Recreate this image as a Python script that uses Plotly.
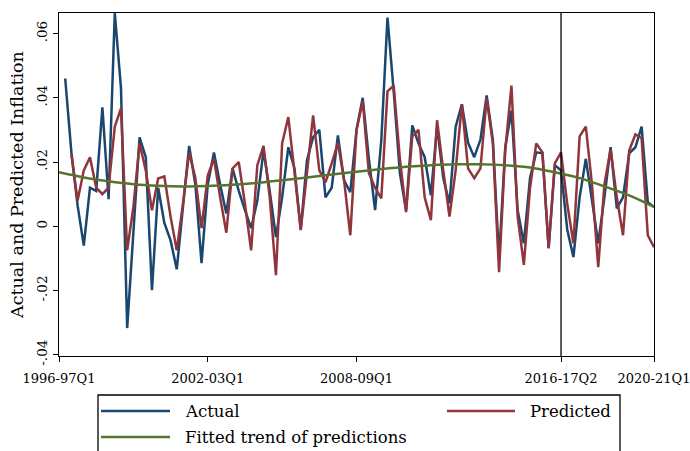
import plotly.graph_objects as go

# ---- data ----
quarters = [f"{y}-{(y + 1) % 100:02d}Q{q}" for y in range(1996, 2021) for q in range(1, 5)][:97]

actual = [None, 0.046, 0.023, 0.0065, -0.006, 0.012, 0.011, 0.037, 0.0084, 0.0664,
          0.043, -0.0317, -0.003, 0.0277, 0.0215, -0.0199, 0.012, 0.001, -0.0044, -0.0134,
          0.006, 0.025, 0.013, -0.0115, 0.013, 0.023, 0.013, 0.004, 0.018, 0.011,
          0.005, -0.0006, 0.008, 0.0236, 0.011, -0.0034, 0.009, 0.0246, 0.018, -0.001,
          0.0205, 0.0277, 0.030, 0.009, 0.012, 0.0283, 0.0143, 0.0106, 0.030, 0.040,
          0.021, 0.005, 0.0267, 0.065, 0.042, 0.0165, 0.005, 0.0314, 0.0258, 0.0215,
          0.0096, 0.031, 0.015, 0.0071, 0.031, 0.038, 0.026, 0.0215, 0.027, 0.0407,
          0.027, -0.010, 0.0246, 0.036, 0.005, -0.0053, 0.015, 0.023, 0.0227, -0.0068,
          0.019, 0.0174, -0.001, -0.0096, 0.009, 0.021, 0.008, -0.0053, 0.009, 0.0246,
          0.0056, 0.009, 0.0227, 0.0246, 0.031, 0.0075, 0.006]

predicted = [None, None, 0.0224, 0.008, 0.0174, 0.0215, 0.012, 0.010, 0.012, 0.031,
             0.0367, -0.0075, 0.006, 0.0258, 0.0174, 0.005, 0.0149, 0.0155, 0.003, -0.0075,
             0.007, 0.023, 0.015, -0.0006, 0.0158, 0.021, 0.009, -0.002, 0.018, 0.020,
             0.007, -0.0075, 0.019, 0.025, 0.009, -0.0152, 0.0258, 0.034, 0.0168, -0.0012,
             0.0165, 0.0345, 0.0174, 0.0137, 0.0196, 0.026, 0.0143, -0.0028, 0.030, 0.039,
             0.0165, 0.012, 0.0087, 0.042, 0.0438, 0.021, 0.0044, 0.028, 0.030, 0.009,
             0.0019, 0.033, 0.0174, 0.003, 0.0174, 0.038, 0.018, 0.015, 0.018, 0.0398,
             0.0258, -0.0143, 0.0236, 0.0438, 0.003, -0.012, 0.012, 0.0258, 0.023, -0.0068,
             0.0196, 0.023, 0.007, -0.0053, 0.028, 0.031, 0.013, -0.0127, 0.013, 0.024,
             0.009, -0.0028, 0.0236, 0.0286, 0.0274, -0.0028, -0.0065]

# fitted trend, read every 4 quarters
trend_quarters = quarters[::4]
trend = [0.0168, 0.0152, 0.0140, 0.0131, 0.0126, 0.0124, 0.0125, 0.0129, 0.0135, 0.0143,
         0.0152, 0.0161, 0.0170, 0.0178, 0.0185, 0.0190, 0.0193, 0.0193, 0.0190, 0.0183,
         0.0168, 0.0150, 0.0124, 0.0096, 0.0060]

xtick_labels = ["1996-97Q1", "2002-03Q1", "2008-09Q1", "2016-17Q2", "2020-21Q1"]
ytick_vals = [-0.04, -0.02, 0, 0.02, 0.04, 0.06]
ytick_text = ["-.04", "-.02", "0", ".02", ".04", ".06"]
break_quarter = "2016-17Q2"

legend_labels = ["Actual", "Predicted", "Fitted trend of predictions"]

NAVY = "#1a476f"
MAROON = "#90353b"
GREEN = "#55752f"
FONT = "DejaVu Serif"

W, H = 690, 451
L, R, T, B = 59, 36, 13, 95
PW, PH = W - L - R, H - T - B


def px(x):
    return (x - L) / PW


def py(y):
    return (H - B - y) / PH


fig = go.Figure()
fig.add_trace(go.Scatter(x=quarters, y=actual, mode="lines", name=legend_labels[0],
                         line=dict(color=NAVY, width=2.5), showlegend=False))
fig.add_trace(go.Scatter(x=quarters, y=predicted, mode="lines", name=legend_labels[1],
                         line=dict(color=MAROON, width=2.5), showlegend=False))
fig.add_trace(go.Scatter(x=trend_quarters, y=trend, mode="lines", name=legend_labels[2],
                         line=dict(color=GREEN, width=2.5, shape="spline"), showlegend=False))

fig.add_shape(type="line", x0=break_quarter, x1=break_quarter, xref="x", yref="paper",
              y0=0, y1=1, line=dict(color="black", width=1.3))

# legend (drawn manually to match the Stata-style box)
fig.add_shape(type="rect", xref="paper", yref="paper", x0=px(98), x1=px(620),
              y0=py(395), y1=py(480), line=dict(color="black", width=1.3),
              fillcolor="white", layer="above")
legend_rows = [(101, 170, 183, 411, NAVY, legend_labels[0]),
               (447, 515, 528, 411, MAROON, legend_labels[1]),
               (101, 170, 183, 437, GREEN, legend_labels[2])]
for x0, x1, xt, yy, col, lab in legend_rows:
    fig.add_shape(type="line", xref="paper", yref="paper", x0=px(x0), x1=px(x1),
                  y0=py(yy), y1=py(yy), line=dict(color=col, width=2.5))
    fig.add_annotation(x=px(xt), y=py(yy), xref="paper", yref="paper", text=lab,
                       showarrow=False, xanchor="left", yanchor="middle",
                       font=dict(family=FONT, size=16.5, color="black"))

fig.update_xaxes(type="category", range=[0, 96], tickmode="array", tickvals=xtick_labels,
                 ticktext=xtick_labels, ticks="outside", ticklen=5, tickwidth=1.3,
                 tickcolor="black", showline=True, linecolor="black", linewidth=1.3,
                 mirror=True, showgrid=False, zeroline=False, automargin=False,
                 ticklabelstandoff=5,
                 tickfont=dict(family=FONT, size=13, color="black"), tickangle=0)
fig.update_yaxes(range=[-0.0404, 0.0664], tickmode="array", tickvals=ytick_vals,
                 ticktext=ytick_text, ticks="outside", ticklen=5, tickwidth=1.3,
                 tickcolor="black", showline=True, linecolor="black", linewidth=1.3,
                 mirror=True, showgrid=False, zeroline=False, tickangle=-90, automargin=False,
                 tickfont=dict(family=FONT, size=13.5, color="black"),
                 title=dict(text="Actual and Predicted Inflation",
                            font=dict(family=FONT, size=17.5, color="black"), standoff=6))

fig.update_layout(width=W, height=H, margin=dict(l=L, r=R, t=T, b=B),
                  plot_bgcolor="white", paper_bgcolor="white", showlegend=False)

fig.write_html("out.html", config={"displayModeBar": False},
               post_script="document.body.style.margin='0';document.body.style.overflow='hidden';")
